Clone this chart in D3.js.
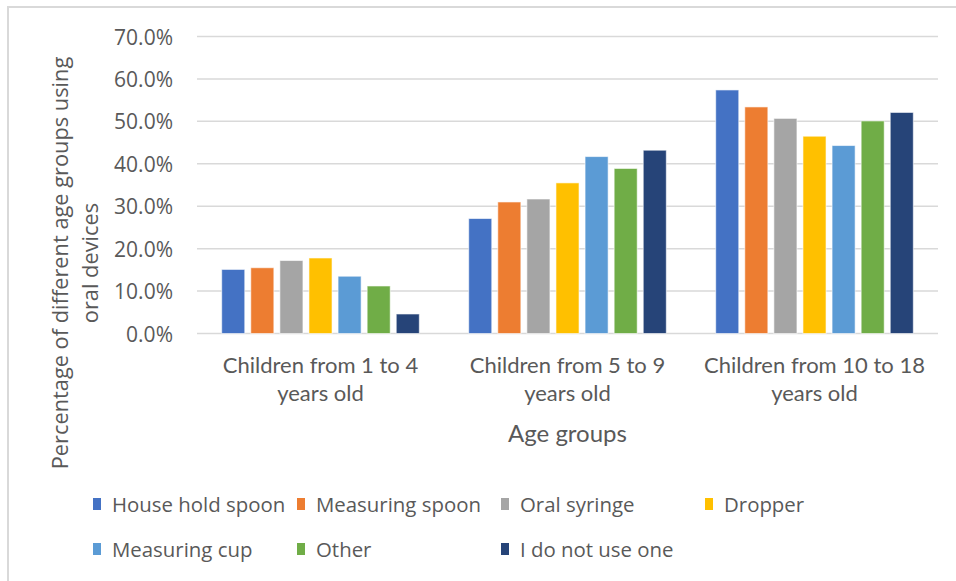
<!DOCTYPE html>
<html>
<head>
<meta charset="utf-8">
<script src="https://cdn.jsdelivr.net/npm/d3@7"></script>
<style>
	body { margin: 0; background: #fff; }
	svg { display: block; }
	.tick-label { font-family: "Open Sans", sans-serif; font-size: 21px; fill: #595959; }
	.cat-label { font-family: Lato, sans-serif; font-size: 22px; fill: #595959; }
	.axis-title { fill: #595959; }
	.legend-label { font-family: "Open Sans", sans-serif; font-size: 20.4px; fill: #595959; }
</style>
</head>
<body>
<div id="chart"></div>
<script>
// data
var groups = [
	['Children from 1 to 4', 'years old'],
	['Children from 5 to 9', 'years old'],
	['Children from 10 to 18', 'years old']
];
var devices = ['House hold spoon', 'Measuring spoon', 'Oral syringe', 'Dropper', 'Measuring cup', 'Other', 'I do not use one'];
var colors = ['#4472C4', '#ED7D31', '#A5A5A5', '#FFC000', '#5B9BD5', '#70AD47', '#264478'];

// one array per device, values for the three age groups (percent)
var houseHoldSpoon = [15.1, 27.1, 57.4];
var measuringSpoon = [15.5, 31.0, 53.4];
var oralSyringe = [17.2, 31.7, 50.7];
var dropper = [17.8, 35.5, 46.5];
var measuringCup = [13.5, 41.7, 44.3];
var other = [11.2, 38.9, 50.1];
var noDevice = [4.6, 43.2, 52.1];
var series = [houseHoldSpoon, measuringSpoon, oralSyringe, dropper, measuringCup, other, noDevice];

var yTicks = [0, 10, 20, 30, 40, 50, 60, 70];

var width = 956, height = 581;
var plot = { left: 197, right: 938, top: 36.5, bottom: 333.5 };

var svg = d3.select('#chart').append('svg')
	.attr('width', width)
	.attr('height', height);

// chart area frame (only top and left edges show in the picture)
svg.append('rect')
	.attr('x', 8)
	.attr('y', 7)
	.attr('width', 980)
	.attr('height', 600)
	.attr('fill', 'none')
	.attr('stroke', '#d9d9d9')
	.attr('stroke-width', 2);

var y = d3.scaleLinear()
	.domain([0, 70])
	.range([plot.bottom, plot.top]);

var x0 = d3.scaleBand()
	.domain(d3.range(groups.length))
	.range([plot.left, plot.right])
	.paddingInner(0.2)
	.paddingOuter(0.1);

var x1 = d3.scaleBand()
	.domain(d3.range(devices.length))
	.range([0, x0.bandwidth()])
	.paddingInner(0.207)
	.paddingOuter(0);

// gridlines
svg.append('g')
	.selectAll('line')
	.data(yTicks)
	.enter()
	.append('line')
	.attr('x1', plot.left)
	.attr('x2', plot.right)
	.attr('y1', function(d){ return y(d); })
	.attr('y2', function(d){ return y(d); })
	.attr('stroke', '#d9d9d9')
	.attr('stroke-width', 1.5);

// y axis labels
var yAxis = d3.axisLeft(y)
	.tickValues(yTicks)
	.tickSize(0)
	.tickPadding(0)
	.tickFormat(function(d){ return d3.format('.1f')(d) + '%'; });

var gy = svg.append('g')
	.attr('transform', 'translate(' + 173 + ',0)')
	.call(yAxis);
gy.select('.domain').remove();
gy.selectAll('text')
	.attr('class', 'tick-label')
	.attr('dy', '0.36em');

// bars
var gGroups = svg.append('g')
	.selectAll('g')
	.data(groups)
	.enter()
	.append('g')
	.attr('transform', function(d, i){ return 'translate(' + x0(i) + ',0)'; });

gGroups.selectAll('rect')
	.data(function(d, gi){
		return series.map(function(s, si){ return { s: si, v: s[gi] }; });
	})
	.enter()
	.append('rect')
	.attr('x', function(d){ return x1(d.s); })
	.attr('width', x1.bandwidth())
	.attr('y', function(d){ return y(d.v); })
	.attr('height', function(d){ return y(0) - y(d.v); })
	.attr('fill', function(d){ return colors[d.s]; })
	.attr('stroke', '#ffffff')
	.attr('stroke-opacity', 0.6)
	.attr('stroke-width', 1);

// category labels
var cats = svg.append('g')
	.selectAll('text')
	.data(groups)
	.enter()
	.append('text')
	.attr('class', 'cat-label')
	.attr('text-anchor', 'middle');
cats.append('tspan')
	.attr('x', function(d, i){ return x0(i) + x0.bandwidth() / 2; })
	.attr('y', 373)
	.text(function(d){ return d[0]; });
cats.append('tspan')
	.attr('x', function(d, i){ return x0(i) + x0.bandwidth() / 2; })
	.attr('y', 401)
	.text(function(d){ return d[1]; });

// axis titles
svg.append('text')
	.attr('class', 'axis-title')
	.attr('x', (plot.left + plot.right) / 2)
	.attr('y', 442)
	.attr('text-anchor', 'middle')
	.style('font-family', 'Lato, sans-serif')
	.style('font-size', '24px')
	.text('Age groups');

var yTitle = svg.append('text')
	.attr('class', 'axis-title')
	.attr('transform', 'translate(68,263) rotate(-90)')
	.attr('text-anchor', 'middle')
	.style('font-family', '"Open Sans", sans-serif')
	.style('font-size', '21.8px');
yTitle.append('tspan')
	.attr('x', 0)
	.attr('y', 0)
	.text('Percentage of different  age groups using');
yTitle.append('tspan')
	.attr('x', 0)
	.attr('y', 30)
	.text('oral devices');

// legend, 4 columns
var legend = svg.append('g')
	.selectAll('g')
	.data(devices)
	.enter()
	.append('g')
	.attr('transform', function(d, i){
		return 'translate(' + (93 + (i % 4) * 204) + ',' + (498 + Math.floor(i / 4) * 45) + ')';
	});
legend.append('rect')
	.attr('width', 8)
	.attr('height', 12)
	.attr('fill', function(d, i){ return colors[i]; });
legend.append('text')
	.attr('class', 'legend-label')
	.attr('x', 19)
	.attr('y', 13.5)
	.text(function(d){ return d; });
</script>
</body>
</html>
